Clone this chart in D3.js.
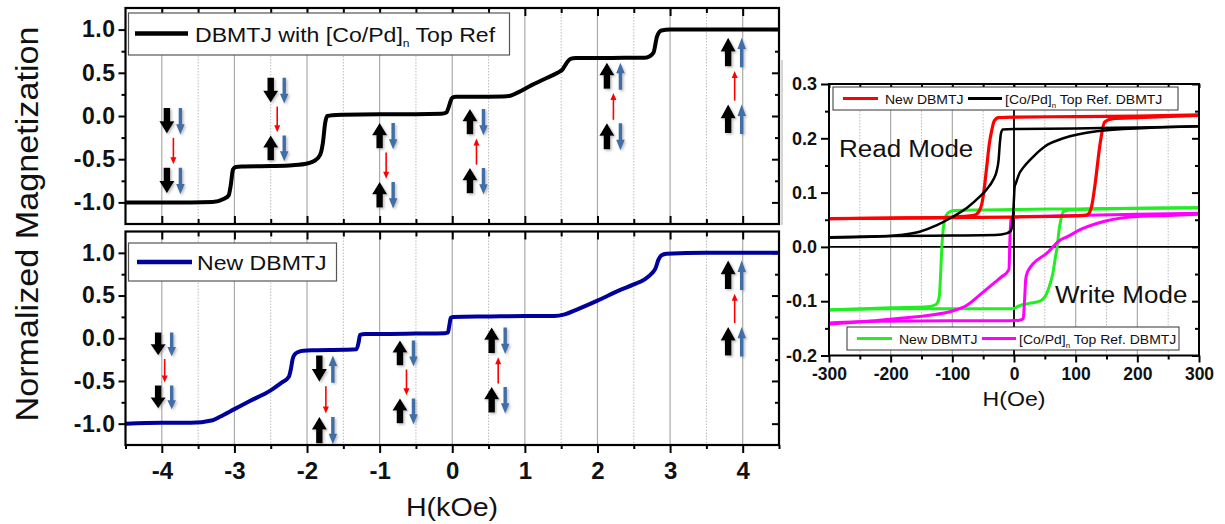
<!DOCTYPE html>
<html><head><meta charset="utf-8">
<script src="https://cdn.jsdelivr.net/npm/d3@7"></script>
<style>body{margin:0;background:#fff}svg{display:block}text{font-family:"Liberation Sans",Arial,sans-serif}</style>
</head><body><svg id="c" width="1225" height="524"></svg>
<script>
// ---------- DATA ----------
// Top-left: DBMTJ with [Co/Pd]n Top Ref (H in kOe, normalized M)
const topH = [-4.5,-3.6,-3.3,-3.15,-3.08,-3.05,-3.02,-2.98,-2.9,-2.5,-2.2,-2.0,-1.9,-1.82,-1.78,-1.75,-1.72,-1.65,-1.5,-1.0,-0.5,-0.15,-0.08,-0.05,-0.02,0.0,0.05,0.2,0.5,0.7,0.8,0.9,1.1,1.3,1.45,1.52,1.58,1.63,1.7,2.2,2.6,2.68,2.77,2.82,2.88,3.0,3.5,4.5];
const topM = [-1.0,-1.0,-0.995,-0.96,-0.92,-0.8,-0.62,-0.59,-0.585,-0.58,-0.57,-0.55,-0.52,-0.45,-0.3,-0.08,0.0,0.01,0.015,0.02,0.02,0.025,0.04,0.1,0.18,0.21,0.222,0.224,0.224,0.225,0.235,0.27,0.36,0.44,0.5,0.54,0.62,0.66,0.67,0.672,0.675,0.678,0.73,0.92,0.99,1.0,1.0,1.0];
// Bottom-left: New DBMTJ
const botH = [-4.5,-4.0,-3.6,-3.3,-3.2,-3.0,-2.8,-2.5,-2.35,-2.25,-2.22,-2.2,-2.17,-2.12,-2.05,-1.9,-1.5,-1.32,-1.29,-1.27,-1.2,-1.0,-0.5,-0.1,-0.06,-0.04,-0.02,0.02,0.5,1.0,1.4,1.55,1.7,2.0,2.3,2.5,2.65,2.75,2.8,2.84,2.88,2.95,3.5,4.5];
const botM = [-1.0,-0.99,-0.99,-0.96,-0.92,-0.83,-0.74,-0.61,-0.52,-0.45,-0.35,-0.25,-0.19,-0.16,-0.145,-0.14,-0.135,-0.13,-0.05,0.04,0.05,0.05,0.055,0.06,0.065,0.15,0.24,0.25,0.255,0.26,0.26,0.28,0.33,0.44,0.56,0.63,0.69,0.76,0.82,0.92,0.97,0.99,1.0,1.0];

// Arrow groups: x (kOe), top & bottom (M units), states [black,blue] first pair, red direction, second pair
const topArrowX   = [-3.93,-2.50,-1.00,0.244,2.13,3.80];
const topArrowTop = [0.093,0.442,-0.081,0.081,0.616,0.907];
const topArrowBot = [-0.895,-0.512,-1.058,-0.895,-0.384,-0.198];
const topArrowA   = ["DD","DD","UD","UD","UU","UU"];
const topArrowRed = ["D","D","D","U","U","U"];
const topArrowB   = ["DD","UD","UD","UD","UD","UU"];
const botArrowX   = [-4.05,-1.83,-0.72,0.543,3.80];
const botArrowTop = [0.068,-0.201,-0.026,0.126,0.91];
const botArrowBot = [-0.821,-1.23,-0.996,-0.868,-0.201];
const botArrowA   = ["DD","DU","UD","UD","UU"];
const botArrowRed = ["D","D","D","U","U"];
const botArrowB   = ["DD","UD","UD","UD","UU"];

// Right panel (H in Oe)
const redDecH = [300,200,100,0,-25,-32,-36,-40,-44,-48,-52,-57,-65,-100,-200,-300];
const redDecM = [0.243,0.241,0.240,0.239,0.238,0.232,0.215,0.19,0.15,0.11,0.08,0.065,0.058,0.055,0.053,0.052];
const redIncH = [-300,-100,0,60,100,115,120,126,132,139,147,160,200,300];
const redIncM = [0.052,0.054,0.055,0.056,0.057,0.058,0.06,0.075,0.12,0.185,0.23,0.236,0.238,0.242];
const blkDecH = [300,200,100,0,-18,-21,-23,-25,-28,-34,-45,-56,-75,-100,-125,-153,-185,-218,-260,-300];
const blkDecM = [0.222,0.220,0.218,0.217,0.216,0.21,0.19,0.16,0.14,0.123,0.105,0.092,0.073,0.055,0.04,0.028,0.022,0.019,0.018,0.017];
const blkIncH = [-300,-200,-100,-30,-12,-5,-2,0,1,3,9,15,31,50,80,134,215,300];
const blkIncM = [0.018,0.02,0.021,0.022,0.025,0.03,0.05,0.09,0.11,0.117,0.136,0.146,0.166,0.185,0.2,0.213,0.219,0.222];
const grnDecH = [300,200,100,0,-50,-95,-104,-110,-114,-117,-119,-121,-124,-128,-140,-200,-300];
const grnDecM = [0.072,0.071,0.070,0.069,0.068,0.067,0.065,0.058,0.04,0.0,-0.05,-0.09,-0.103,-0.107,-0.11,-0.112,-0.116];
const grnIncH = [-300,-200,-100,-2,9,25,42,53,58,63,67,70,73,76,80,90,150,300];
const grnIncM = [-0.116,-0.114,-0.114,-0.114,-0.108,-0.104,-0.1,-0.086,-0.07,-0.049,-0.02,0.0,0.03,0.05,0.065,0.068,0.07,0.072];
const magDecH = [300,200,100,20,0,-5,-7,-8,-10,-20,-34,-55,-77,-100,-137,-180,-218,-300];
const magDecM = [0.062,0.06,0.058,0.056,0.055,0.05,0.0,-0.04,-0.045,-0.055,-0.068,-0.088,-0.108,-0.118,-0.126,-0.131,-0.135,-0.142];
const magIncH = [-300,-218,-100,-7,9,15,17,19,21,25,31,53,74,85,110,134,188,250,300];
const magIncM = [-0.14,-0.137,-0.136,-0.136,-0.135,-0.132,-0.1,-0.06,-0.049,-0.04,-0.031,-0.012,0.012,0.018,0.033,0.043,0.055,0.058,0.06];

const leftXTicks = [-4,-3,-2,-1,0,1,2,3,4];
const leftXMinor = [-4.5,-3.5,-2.5,-1.5,-0.5,0.5,1.5,2.5,3.5,4.5];
const leftYTicks = [-1.0,-0.5,0.0,0.5,1.0];
const leftYMinor = [-1.25,-0.75,-0.25,0.25,0.75,1.25];
const rightXTicks = [-300,-200,-100,0,100,200,300];
const rightXMinor = [-250,-150,-50,50,150,250];
const rightYTicks = [-0.2,-0.1,0.0,0.1,0.2,0.3];
const rightYMinor = [-0.15,-0.05,0.05,0.15,0.25];

// ---------- SETUP ----------
const svg = d3.select("#c");
const defs = svg.append("defs");
const f = defs.append("filter").attr("id","sh").attr("x","-50%").attr("y","-50%").attr("width","200%").attr("height","200%");
f.append("feDropShadow").attr("dx",1.5).attr("dy",1.5).attr("stdDeviation",1.2).attr("flood-color","#888").attr("flood-opacity",0.55);

const xL = d3.scaleLinear().domain([-4.5,4.5]).range([125.5,779]);
const yT = d3.scaleLinear().domain([-1.25,1.25]).range([224,8]);
const yB = d3.scaleLinear().domain([-1.25,1.25]).range([445,231.5]);
const xR = d3.scaleLinear().domain([-300,300]).range([829,1199]);
const yR = d3.scaleLinear().domain([-0.2,0.3]).range([355.5,84]);
const fontF = '"Liberation Sans",Arial,sans-serif';

function txt(g, x, y, s, size, weight, anchor, sx){
  const t = g.append("text").attr("transform",`translate(${x},${y}) scale(${sx||1},1)`)
    .attr("font-size",size).attr("font-weight",weight||"normal").attr("text-anchor",anchor||"start").attr("fill","#111");
  return t;
}
function cleanAxis(sel, sw){ sel.select(".domain").remove(); sel.selectAll(".tick line").attr("stroke","#000").attr("stroke-width",sw||2); }

function grid(g, xs, xMinor, x, y0, y1){
  g.selectAll(null).data(xs).enter().append("line")
    .attr("x1",d=>x(d)).attr("x2",d=>x(d)).attr("y1",y0).attr("y2",y1)
    .attr("stroke","#aaa").attr("stroke-width",1.2);
  g.selectAll(null).data(xMinor).enter().append("line")
    .attr("x1",d=>x(d)).attr("x2",d=>x(d)).attr("y1",y0).attr("y2",y1)
    .attr("stroke","#bbb").attr("stroke-width",1).attr("stroke-dasharray","1.5,1.5");
}

function arrowPath(cx, t, b, w, sw, hh, up){
  if(up) return `M${cx},${t}L${cx+w/2},${t+hh}L${cx+sw/2},${t+hh}L${cx+sw/2},${b}L${cx-sw/2},${b}L${cx-sw/2},${t+hh}L${cx-w/2},${t+hh}Z`;
  return `M${cx},${b}L${cx+w/2},${b-hh}L${cx+sw/2},${b-hh}L${cx+sw/2},${t}L${cx-sw/2},${t}L${cx-sw/2},${b-hh}L${cx-w/2},${b-hh}Z`;
}
function pair(g, cx, t, b, st){
  const h = b - t;
  g.append("path").attr("d",arrowPath(cx, t, b, 15, 6.5, h*0.48, st[0]==="U")).attr("fill","#000").attr("filter","url(#sh)");
  g.append("path").attr("d",arrowPath(cx+13.5, t, b+1, 8.5, 3.4, h*0.4, st[1]==="U")).attr("fill","#3f6ea6").attr("filter","url(#sh)");
}
function arrowGroups(g, x, y, X, T, B, A, R, Bs){
  X.forEach((xv,i)=>{
    const cx = x(xv), t = y(T[i]), b = y(B[i]), H = b - t;
    pair(g, cx, t, t + H*0.3, A[i]);
    pair(g, cx, t + H*0.7, b, Bs[i]);
    const rx = cx + 6.5, r0 = t + H*0.35, r1 = t + H*0.66;
    const up = R[i]==="U";
    g.append("line").attr("x1",rx).attr("x2",rx).attr("y1",up? r0+6 : r0).attr("y2",up? r1 : r1-6)
      .attr("stroke","#f00").attr("stroke-width",1.6);
    g.append("path").attr("d", up ? `M${rx},${r0}L${rx+3},${r0+7}L${rx-3},${r0+7}Z` : `M${rx},${r1}L${rx+3},${r1-7}L${rx-3},${r1-7}Z`).attr("fill","#f00");
  });
}

function leftPanel(y, y0, y1, isBottom){
  const g = svg.append("g");
  grid(g, leftXTicks, leftXMinor, xL, y0, y1);
  g.append("g").attr("transform",`translate(${xL.range()[0]},0)`)
    .call(d3.axisLeft(y).tickValues(leftYTicks).tickSize(7).tickPadding(3).tickFormat(d=>d.toFixed(1)))
    .call(s=>cleanAxis(s)).call(s=>s.selectAll("text").attr("font-size",23).attr("font-weight","bold").attr("fill","#111").attr("font-family",fontF).attr("letter-spacing",0.5));
  g.append("g").attr("transform",`translate(${xL.range()[0]},0)`)
    .call(d3.axisLeft(y).tickValues(leftYMinor.filter(v=>Math.abs(v)<1.2)).tickSize(4).tickFormat("")).call(s=>cleanAxis(s));
  g.append("g").attr("transform",`translate(${xL.range()[1]},0)`)
    .call(d3.axisRight(y).tickValues(leftYTicks).tickSize(-7).tickFormat("")).call(s=>cleanAxis(s));
  g.append("g").attr("transform",`translate(${xL.range()[1]},0)`)
    .call(d3.axisRight(y).tickValues(leftYMinor.filter(v=>Math.abs(v)<1.2)).tickSize(-4).tickFormat("")).call(s=>cleanAxis(s));
  g.append("g").attr("transform",`translate(0,${y0})`)
    .call(d3.axisTop(xL).tickValues(leftXTicks).tickSize(-8).tickFormat("")).call(s=>cleanAxis(s));
  g.append("g").attr("transform",`translate(0,${y0})`)
    .call(d3.axisTop(xL).tickValues(leftXMinor.slice(1,-1)).tickSize(-5).tickFormat("")).call(s=>cleanAxis(s));
  if(!isBottom){
    g.append("g").attr("transform",`translate(0,${y1})`)
      .call(d3.axisBottom(xL).tickValues(leftXTicks).tickSize(-8).tickFormat("")).call(s=>cleanAxis(s));
    g.append("g").attr("transform",`translate(0,${y1})`)
      .call(d3.axisBottom(xL).tickValues(leftXMinor.slice(1,-1)).tickSize(-5).tickFormat("")).call(s=>cleanAxis(s));
  } else {
    g.append("g").attr("transform",`translate(0,${y1})`)
      .call(d3.axisBottom(xL).tickValues(leftXTicks).tickSize(8).tickPadding(9).tickFormat(d=>String(d)))
      .call(s=>cleanAxis(s)).call(s=>s.selectAll("text").attr("font-size",24).attr("font-weight","bold").attr("fill","#111").attr("font-family",fontF));
    g.append("g").attr("transform",`translate(0,${y1})`)
      .call(d3.axisBottom(xL).tickValues(leftXMinor).tickSize(4).tickFormat("")).call(s=>cleanAxis(s));
  }
  return g;
}

// ---------- LEFT PANELS ----------
const gT = leftPanel(yT, 8, 224, false);
const gB = leftPanel(yB, 231.5, 445, true);

arrowGroups(gT, xL, yT, topArrowX, topArrowTop, topArrowBot, topArrowA, topArrowRed, topArrowB);
arrowGroups(gB, xL, yB, botArrowX, botArrowTop, botArrowBot, botArrowA, botArrowRed, botArrowB);

const lineT = d3.line().x(d=>xL(d[0])).y(d=>yT(d[1])).curve(d3.curveMonotoneX);
const lineB = d3.line().x(d=>xL(d[0])).y(d=>yB(d[1])).curve(d3.curveMonotoneX);
gT.append("path").attr("d",lineT(d3.zip(topH,topM))).attr("fill","none").attr("stroke","#000").attr("stroke-width",4);
gB.append("path").attr("d",lineB(d3.zip(botH,botM))).attr("fill","none").attr("stroke","#00009c").attr("stroke-width",4);

[[8,224],[231.5,445]].forEach(([a,b])=>{
  svg.append("rect").attr("x",xL.range()[0]).attr("y",a).attr("width",xL.range()[1]-xL.range()[0]).attr("height",b-a)
    .attr("fill","none").attr("stroke","#000").attr("stroke-width",2.2);
});

// legends left
svg.append("rect").attr("x",128.5).attr("y",13).attr("width",381).attr("height",42).attr("fill","#fff").attr("stroke","#555").attr("stroke-width",1.2);
svg.append("line").attr("x1",135).attr("x2",188).attr("y1",33.5).attr("y2",33.5).attr("stroke","#000").attr("stroke-width",4.5);
{
  const t = txt(svg, 195, 42, "", 21, "normal", "start", 1.1);
  t.append("tspan").text("DBMTJ with [Co/Pd]");
  t.append("tspan").attr("font-size",11).attr("dy",5).text("n");
  t.append("tspan").attr("dy",-5).text(" Top Ref");
}
svg.append("rect").attr("x",128.5).attr("y",243).attr("width",208).attr("height",38).attr("fill","#fff").attr("stroke","#555").attr("stroke-width",1.2);
svg.append("line").attr("x1",137).attr("x2",192).attr("y1",262).attr("y2",262).attr("stroke","#00009c").attr("stroke-width",4.5);
txt(svg, 197, 270, "", 21, "normal", "start", 1.1).text("New DBMTJ");

svg.append("text").attr("transform","translate(38,224) rotate(-90)").attr("text-anchor","middle")
  .attr("font-size",31).attr("fill","#111").attr("textLength",395).attr("lengthAdjust","spacingAndGlyphs").text("Normalized Magnetization");
txt(svg, 452, 516, "", 26, "normal", "middle", 1.1).text("H(kOe)");

// ---------- RIGHT PANEL ----------
svg.append("line").attr("x1",782).attr("x2",782).attr("y1",60).attr("y2",225).attr("stroke","#c8c8c8").attr("stroke-width",1.5);
const gR = svg.append("g");
grid(gR, rightXTicks.filter(v=>v!==0 && Math.abs(v)<300), rightXMinor, xR, 84, 355.5);
gR.append("line").attr("x1",xR(-300)).attr("x2",xR(300)).attr("y1",yR(0)).attr("y2",yR(0)).attr("stroke","#000").attr("stroke-width",1.8);
gR.append("line").attr("x1",xR(0)).attr("x2",xR(0)).attr("y1",84).attr("y2",355.5).attr("stroke","#000").attr("stroke-width",1.8);

gR.append("g").attr("transform",`translate(829,0)`)
  .call(d3.axisLeft(yR).tickValues(rightYTicks).tickSize(8).tickPadding(4).tickFormat(d=>d.toFixed(1)))
  .call(s=>cleanAxis(s)).call(s=>s.selectAll("text").attr("font-size",18).attr("font-weight","bold").attr("fill","#111").attr("font-family",fontF));
gR.append("g").attr("transform",`translate(829,0)`)
  .call(d3.axisLeft(yR).tickValues(rightYMinor).tickSize(4).tickFormat("")).call(s=>cleanAxis(s));
gR.append("g").attr("transform",`translate(1199,0)`)
  .call(d3.axisRight(yR).tickValues(rightYTicks).tickSize(-7).tickFormat("")).call(s=>cleanAxis(s));
gR.append("g").attr("transform",`translate(1199,0)`)
  .call(d3.axisRight(yR).tickValues(rightYMinor).tickSize(-4).tickFormat("")).call(s=>cleanAxis(s));
gR.append("g").attr("transform",`translate(0,355.5)`)
  .call(d3.axisBottom(xR).tickValues(rightXTicks).tickSize(7).tickPadding(5).tickFormat(d=>String(d)))
  .call(s=>cleanAxis(s)).call(s=>s.selectAll("text").attr("font-size",17.5).attr("font-weight","bold").attr("fill","#111").attr("font-family",fontF));
gR.append("g").attr("transform",`translate(0,355.5)`)
  .call(d3.axisBottom(xR).tickValues(rightXMinor).tickSize(4).tickFormat("")).call(s=>cleanAxis(s));
gR.append("g").attr("transform",`translate(0,84)`)
  .call(d3.axisTop(xR).tickValues(rightXTicks.concat(rightXMinor)).tickSize(-4).tickFormat("")).call(s=>cleanAxis(s));

const lineR = d3.line().x(d=>xR(d[0])).y(d=>yR(d[1])).curve(d3.curveMonotoneX);
function branch(H, M, color, w){
  const pts = d3.zip(H, M).sort((a,b)=>a[0]-b[0]);
  gR.append("path").attr("d",lineR(pts)).attr("fill","none").attr("stroke",color).attr("stroke-width",w).attr("stroke-linejoin","round");
}
branch(grnDecH, grnDecM, "#22ee22", 3);
branch(grnIncH, grnIncM, "#22ee22", 3);
branch(magDecH, magDecM, "#ff00ff", 3);
branch(magIncH, magIncM, "#ff00ff", 3);
branch(redDecH, redDecM, "#ff0000", 3.2);
branch(redIncH, redIncM, "#ff0000", 3.2);
branch(blkDecH, blkDecM, "#000", 2.5);
branch(blkIncH, blkIncM, "#000", 2.5);

gR.append("rect").attr("x",829).attr("y",84).attr("width",370).attr("height",271.5).attr("fill","none").attr("stroke","#000").attr("stroke-width",2);

function rLegend(x0, y0, w, c1, c2){
  gR.append("rect").attr("x",x0).attr("y",y0).attr("width",w).attr("height",23).attr("fill","#fff").attr("stroke","#333").attr("stroke-width",1);
  const ym = y0 + 11.5;
  gR.append("line").attr("x1",x0+10).attr("x2",x0+45).attr("y1",ym).attr("y2",ym).attr("stroke",c1).attr("stroke-width",3);
  txt(gR, x0+52, ym+5, "", 12.5, "normal", "start", 1.12).text("New DBMTJ");
  gR.append("line").attr("x1",x0+135).attr("x2",x0+169).attr("y1",ym).attr("y2",ym).attr("stroke",c2).attr("stroke-width",3);
  const t = txt(gR, x0+172, ym+5, "", 12.5, "normal", "start", 1.12);
  t.append("tspan").text("[Co/Pd]");
  t.append("tspan").attr("font-size",7).attr("dy",4).text("n");
  t.append("tspan").attr("dy",-4).text(" Top Ref. DBMTJ");
}
rLegend(833, 87, 345, "#ff0000", "#000");
rLegend(847, 327, 332, "#22ee22", "#ff00ff");

txt(gR, 839, 157, "", 23, "normal", "start", 1.13).text("Read Mode");
txt(gR, 1055, 303, "", 23, "normal", "start", 1.13).text("Write Mode");
txt(gR, 1014, 406, "", 21, "normal", "middle", 1.1).text("H(Oe)");
</script></body></html>
